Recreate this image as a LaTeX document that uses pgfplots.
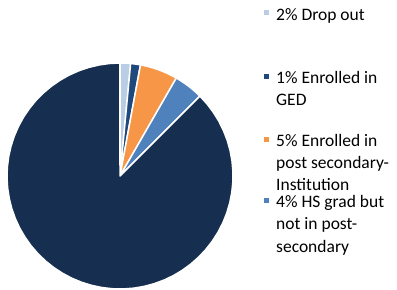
\documentclass[border=0pt]{standalone}
\usepackage{pgfplots}
\pgfplotsset{compat=1.18}
\usepackage{pgfplotstable}
\usepackage{fontspec}
\setmainfont{Carlito}
\definecolor{cDrop}{HTML}{B9CDE5}
\definecolor{cGED}{HTML}{1F497D}
\definecolor{cPost}{HTML}{F79646}
\definecolor{cHS}{HTML}{4F81BD}
\definecolor{cMain}{HTML}{162F50}
% start and end angle (degrees, clockwise from 12 o'clock), from shares 1.5, 1.4, 5.4, 4.2, 87.5 %
\pgfplotstableread{
share start end
1.5 0 5.4
1.4 5.4 10.44
5.4 10.44 29.88
4.2 29.88 45.0
87.5 45.0 360
}\piedata
\begin{document}
\begin{tikzpicture}[x=1bp,y=1bp]
\useasboundingbox (0,0) rectangle (397,290);
\begin{axis}[at={(120bp,114bp)},anchor=center,scale only axis,
  width=226bp,height=226bp,xmin=-1,xmax=1,ymin=-1,ymax=1,hide axis,clip=false]
\pgfplotsforeachungrouped \i/\c in {0/cDrop,1/cGED,2/cPost,3/cHS,4/cMain}{
  \pgfplotstablegetelem{\i}{start}\of\piedata \let\a\pgfplotsretval
  \pgfplotstablegetelem{\i}{end}\of\piedata \let\b\pgfplotsretval
  \edef\cmd{\noexpand\addplot[fill=\c,draw=white,line width=1.5bp,line join=round,domain=\a:\b,samples=60,variable=\noexpand\t]
    ({sin(\noexpand\t)},{cos(\noexpand\t)}) -- (axis cs:0,0) -- cycle;}
  \cmd
}
\end{axis}
\fontsize{17.5bp}{22bp}\selectfont
\fill[cDrop] (264,290-15) rectangle ++(4.5,4.5);
\node[anchor=base west,inner sep=0] at (276,290-20) {2\% Drop out};
\fill[cGED] (264,290-79) rectangle ++(4.5,4.5);
\node[anchor=base west,inner sep=0] at (276,290-83) {1\% Enrolled in};
\node[anchor=base west,inner sep=0] at (276,290-105) {GED};
\fill[cPost] (264,290-142) rectangle ++(4.5,4.5);
\node[anchor=base west,inner sep=0] at (276,290-146) {5\% Enrolled in};
\node[anchor=base west,inner sep=0] at (276,290-168) {post secondary-};
\node[anchor=base west,inner sep=0] at (276,290-190) {Institution};
\fill[cHS] (264,290-203) rectangle ++(4.5,4.5);
\node[anchor=base west,inner sep=0] at (276,290-207) {4\% HS grad but};
\node[anchor=base west,inner sep=0] at (276,290-229.5) {not in post-};
\node[anchor=base west,inner sep=0] at (276,290-252) {secondary};
\end{tikzpicture}
\end{document}
